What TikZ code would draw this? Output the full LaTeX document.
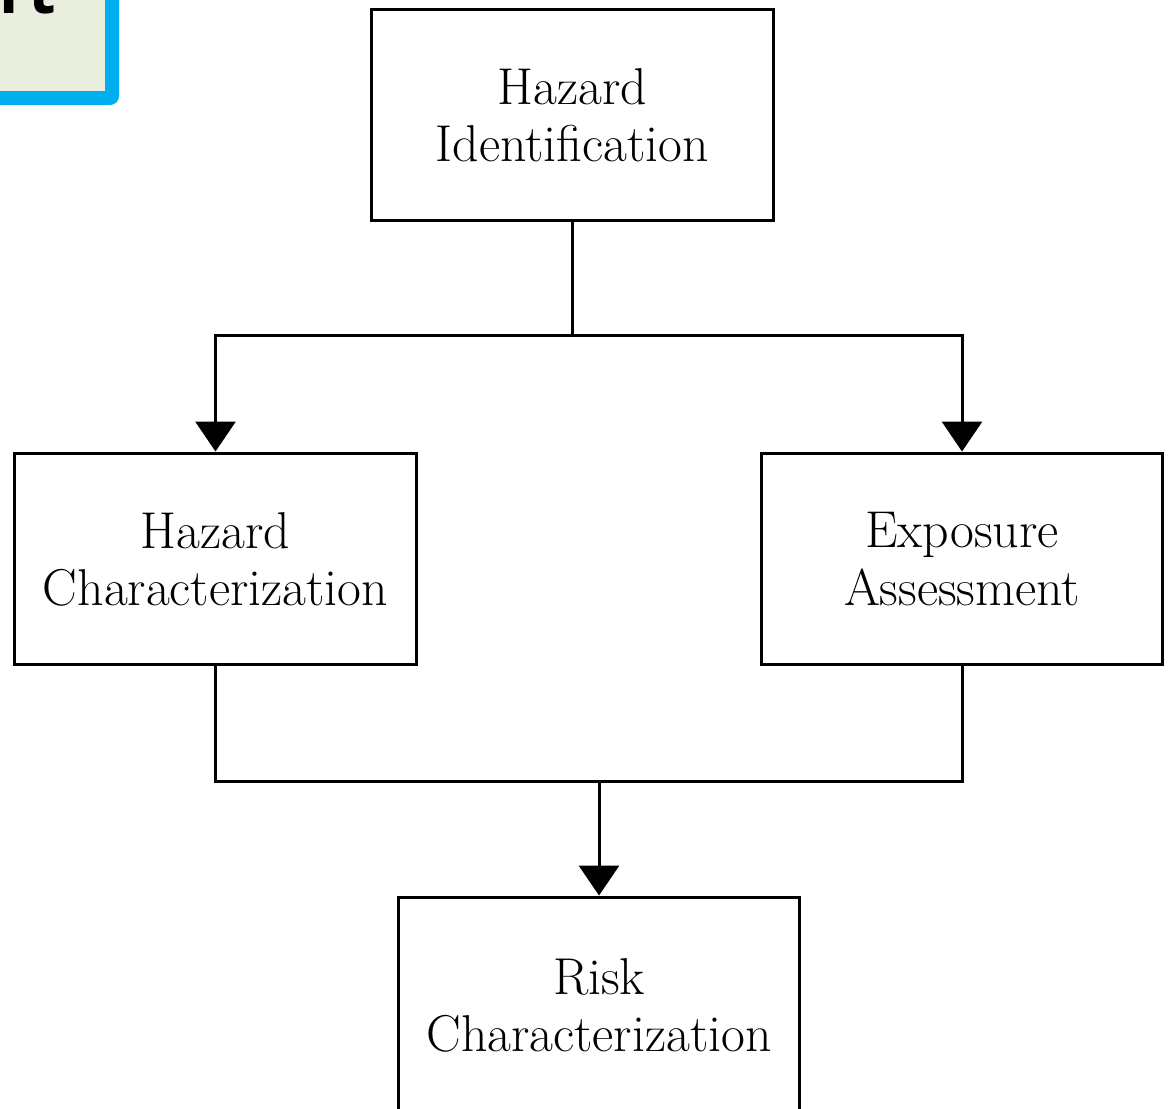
\documentclass[tikz,border=0pt]{standalone}
\usepackage{fontspec}
\usetikzlibrary{positioning, arrows.meta}
\newfontfamily\tabfont{Open Sans}
\definecolor{tabblue}{HTML}{00AEEF}
\definecolor{tabfill}{HTML}{EAEEDF}

\begin{document}
\begin{tikzpicture}[x=0.02cm, y=-0.02cm, line width=1.7pt,
  >={Triangle[width=0.8cm,length=0.6cm]},
  block/.style={draw, minimum width=8.04cm, minimum height=4.24cm, align=center,
    font=\fontsize{29.5}{32.5}\selectfont}]
  \useasboundingbox (0,0) rectangle (1168,1108);
  \clip (0,0) rectangle (1168,1108);
  % cut-off tab in the corner
  \fill[tabblue, rounded corners=5] (-200,-200) rectangle (119,105);
  \fill[tabfill] (-200,-200) rectangle (105,91);
  \node[anchor=base east, inner sep=0pt, font=\tabfont\bfseries\fontsize{36}{40}\selectfont] (tab) at (57,14) {rt};
  % boxes
  \node[block] (hazid)    at (572.5,115) {Hazard\\Identification};
  \node[block] (hazchar)  at (215.5,559) {Hazard\\Characterization};
  \node[block] (expo)     at (962,559)   {Exposure\\Assessment};
  \node[block, minimum height=4.32cm] (riskchar) at (599,1005) {Risk\\Characterization};
  % connectors
  \draw[->] (hazid.south) -- ++(0,113) -| (hazchar.north);
  \draw[->] (hazid.south) -- ++(0,113) -| (expo.north);
  \draw (hazchar.south) -- ++(0,115) -| (expo.south);
  \coordinate (join) at (599,780);
  \draw[->] (join) -- (riskchar.north);
\end{tikzpicture}
\end{document}
